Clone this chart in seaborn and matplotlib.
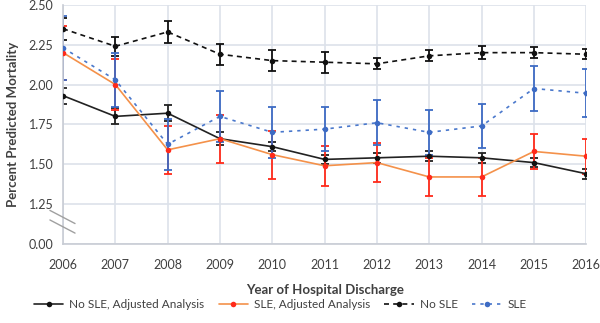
import numpy as np
import pandas as pd
import matplotlib
matplotlib.use("Agg")
import matplotlib.pyplot as plt
import seaborn as sns

years = list(range(2006, 2017))

# values (percent predicted mortality)
no_sle_adj = [1.93, 1.80, 1.82, 1.66, 1.61, 1.53, 1.54, 1.55, 1.54, 1.51, 1.44]
no_sle_adj_err = [0.05, 0.05, 0.05, 0.04, 0.03, 0.03, 0.03, 0.03, 0.03, 0.03, 0.03]

sle_adj = [2.20, 2.00, 1.59, 1.66, 1.56, 1.49, 1.51, 1.42, 1.42, 1.58, 1.55]
sle_adj_err = [0.17, 0.16, 0.15, 0.15, 0.15, 0.125, 0.12, 0.12, 0.12, 0.11, 0.11]

no_sle = [2.35, 2.24, 2.33, 2.19, 2.15, 2.14, 2.13, 2.18, 2.20, 2.20, 2.19]
no_sle_err = [0.07, 0.06, 0.07, 0.065, 0.065, 0.065, 0.035, 0.035, 0.04, 0.035, 0.03]

sle = [2.23, 2.03, 1.625, 1.80, 1.70, 1.72, 1.76, 1.70, 1.74, 1.975, 1.945]
sle_err = [0.20, 0.17, 0.16, 0.16, 0.16, 0.14, 0.14, 0.14, 0.14, 0.14, 0.15]

y_ticks = [1.00, 1.25, 1.50, 1.75, 2.00, 2.25, 2.50]
y_tick_labels = ["0.00", "1.25", "1.50", "1.75", "2.00", "2.25", "2.50"]

sns.set_theme(style="whitegrid")
plt.rcParams["font.family"] = ["Lato", "DejaVu Sans"]

fig = plt.figure(figsize=(6, 3.23), dpi=100)
ax = fig.add_axes([0.105, 0.245, 0.872, 0.74])

series = [
    ("No SLE, Adjusted Analysis", no_sle_adj, no_sle_adj_err, "#222222", "#111111", "#222222", "-"),
    ("SLE, Adjusted Analysis", sle_adj, sle_adj_err, "#f4914a", "#ff2a1a", "#ff2a1a", "-"),
    ("No SLE", no_sle, no_sle_err, "#111111", "#111111", "#111111", (0, (3, 2.5))),
    ("SLE", sle, sle_err, "#4a78cc", "#3d6bc4", "#3d6bc4", (0, (2, 3))),
]

for name, vals, errs, lc, mc, ec, ls in series:
    df = pd.DataFrame({"year": years, "value": vals})
    ax.errorbar(df["year"], df["value"], yerr=errs, fmt="none", ecolor=ec,
                elinewidth=1.3, capsize=3, capthick=1.3, zorder=2)
    sns.lineplot(data=df, x="year", y="value", ax=ax, color=lc, linewidth=1.2,
                 linestyle=ls, marker="o", markersize=4, markeredgewidth=0,
                 markerfacecolor=mc, label=name, zorder=3)

ax.set_xlim(2006, 2016)
ax.set_ylim(1.0, 2.5)
ax.set_xticks(years)
ax.set_yticks(y_ticks)
ax.set_yticklabels(y_tick_labels)
ax.grid(True, color="#dde2ea", linewidth=1.2)
ax.set_facecolor("white")
for side in ["top", "right"]:
    ax.spines[side].set_visible(False)
for side in ["left", "bottom"]:
    ax.spines[side].set_visible(True)
    ax.spines[side].set_color("#c8ccd4")
    ax.spines[side].set_linewidth(1.2)
ax.tick_params(axis="y", labelsize=9, colors="#404040", length=0, pad=7)
ax.tick_params(axis="x", labelsize=9, colors="#404040", length=0, pad=11)

ax.set_xlabel("Year of Hospital Discharge", fontsize=9.5, fontweight="bold", color="#404040", labelpad=9)
ax.set_ylabel("Percent Predicted Mortality", fontsize=9.5, fontweight="bold", color="#404040", labelpad=7)

# axis break marks
for dy in [0.0, -0.04]:
    ax.plot([-0.025, 0.023], [0.14 + dy, 0.085 + dy], transform=ax.transAxes,
            color="#a0a0a0", linewidth=1.0, clip_on=False, zorder=5)

ax.legend(loc="center", bbox_to_anchor=(0.415, -0.255), ncol=4, frameon=False,
          fontsize=8.5, handlelength=2.5, columnspacing=1.2, handletextpad=0.5,
          labelcolor="#404040")

fig.savefig("out.png", dpi=100)
